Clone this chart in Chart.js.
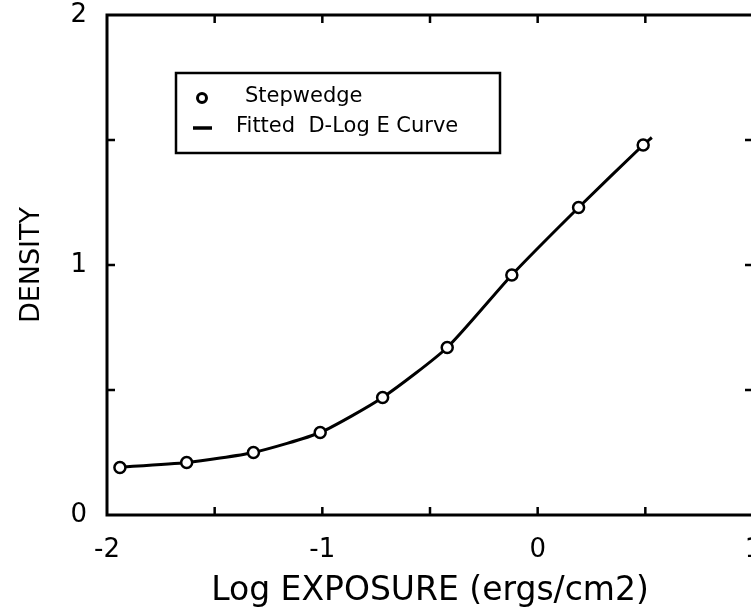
<!DOCTYPE html>
<html>
<head>
<meta charset="utf-8">
<script src="https://cdn.jsdelivr.net/npm/chart.js@4.4.1/dist/chart.umd.min.js"></script>
<style>
  html, body { margin: 0; padding: 0; background: #fff; overflow: hidden; }
  #wrap { width: 790px; height: 615px; }
</style>
</head>
<body>
<div id="wrap"><canvas id="chart" width="790" height="615"></canvas></div>
<script>
// Stepwedge readings taken off the plot
const exposure = [-1.94, -1.63, -1.32, -1.01, -0.72, -0.42, -0.12, 0.19, 0.49];
const density = [0.19, 0.21, 0.25, 0.33, 0.47, 0.67, 0.96, 1.23, 1.48];

// Fitted D-Log E curve
const fitExposure = [-1.96, -1.63, -1.32, -1.01, -0.72, -0.42, -0.12, 0.19, 0.49, 0.53];
const fitDensity = [0.19, 0.21, 0.25, 0.33, 0.47, 0.67, 0.96, 1.23, 1.48, 1.51];

const xTickLabels = ['-2', '-1', '0', '1'];
const yTickLabels = ['0', '1', '2'];
const legendLabels = ['Stepwedge', 'Fitted  D-Log E Curve'];

const FONT = 'DejaVu Sans';

// Frame, inward ticks and boxed legend
const framePlugin = {
    id: 'frame',
    afterDraw(chart) {
        const ctx = chart.ctx;
        const a = chart.chartArea;
        const xs = chart.scales.x, ys = chart.scales.y;
        ctx.save();
        ctx.strokeStyle = '#000';
        ctx.lineWidth = 3;
        ctx.strokeRect(a.left, a.top, a.right - a.left, a.bottom - a.top);

        ctx.lineWidth = 2.5;
        const len = 8;
        for (let v = -1.5; v < 1; v += 0.5) {
            const px = xs.getPixelForValue(v);
            ctx.beginPath();
            ctx.moveTo(px, a.bottom); ctx.lineTo(px, a.bottom - len);
            ctx.moveTo(px, a.top); ctx.lineTo(px, a.top + len);
            ctx.stroke();
        }
        for (let v = 0.5; v < 2; v += 0.5) {
            const py = ys.getPixelForValue(v);
            ctx.beginPath();
            ctx.moveTo(a.left, py); ctx.lineTo(a.left + len, py);
            ctx.moveTo(a.right, py); ctx.lineTo(a.right - len, py);
            ctx.stroke();
        }

        // legend box
        const bx = 176, by = 73, bw = 324, bh = 80;
        ctx.lineWidth = 2.5;
        ctx.strokeRect(bx, by, bw, bh);
        ctx.beginPath();
        ctx.arc(202, 98, 4.5, 0, Math.PI * 2);
        ctx.fillStyle = '#fff';
        ctx.fill();
        ctx.lineWidth = 3;
        ctx.stroke();
        ctx.beginPath();
        ctx.lineWidth = 3.5;
        ctx.moveTo(193, 128); ctx.lineTo(212, 128);
        ctx.stroke();
        ctx.fillStyle = '#000';
        ctx.font = '21px "' + FONT + '"';
        ctx.textBaseline = 'middle';
        ctx.fillText(chart.data.datasets[0].label, 245, 97);
        ctx.fillText(chart.data.datasets[1].label, 236, 127);
        ctx.restore();
    }
};

new Chart(document.getElementById('chart'), {
    type: 'scatter',
    data: {
        datasets: [
            {
                label: legendLabels[0],
                data: exposure.map((x, i) => ({ x: x, y: density[i] })),
                showLine: false,
                pointRadius: 5.5,
                pointBorderWidth: 2.5,
                pointBorderColor: '#000',
                pointBackgroundColor: '#fff',
                order: 0
            },
            {
                label: legendLabels[1],
                data: fitExposure.map((x, i) => ({ x: x, y: fitDensity[i] })),
                showLine: true,
                borderColor: '#000',
                borderWidth: 3,
                pointRadius: 0,
                tension: 0.2,
                order: 1
            }
        ]
    },
    options: {
        responsive: false,
        animation: false,
        events: [],
        layout: { padding: { top: 15, right: 37, left: 0, bottom: 0 } },
        plugins: { legend: { display: false }, tooltip: { enabled: false } },
        scales: {
            x: {
                type: 'linear',
                min: -2, max: 1,
                grid: { display: false },
                border: { display: false },
                afterFit(scale) {
                    scale.height = 100;
                    scale.paddingLeft = 0;
                    scale.paddingRight = 0;
                },
                ticks: {
                    stepSize: 1,
                    padding: 12,
                    color: '#000',
                    font: { family: FONT, size: 26 },
                    callback: (v) => xTickLabels[v + 2]
                },
                title: {
                    display: true,
                    text: 'Log EXPOSURE (ergs/cm2)',
                    color: '#000',
                    font: { family: FONT, size: 33 },
                    padding: { top: 8 }
                }
            },
            y: {
                type: 'linear',
                min: 0, max: 2,
                grid: { display: false },
                border: { display: false },
                afterFit(scale) {
                    scale.width = 107;
                    scale.paddingTop = 0;
                    scale.paddingBottom = 0;
                },
                ticks: {
                    stepSize: 1,
                    padding: 12,
                    color: '#000',
                    font: { family: FONT, size: 26 },
                    callback: (v) => yTickLabels[v]
                },
                title: {
                    display: true,
                    text: 'DENSITY',
                    color: '#000',
                    font: { family: FONT, size: 27 },
                    padding: { top: 16, bottom: 0 }
                }
            }
        }
    },
    plugins: [framePlugin]
});
</script>
</body>
</html>
